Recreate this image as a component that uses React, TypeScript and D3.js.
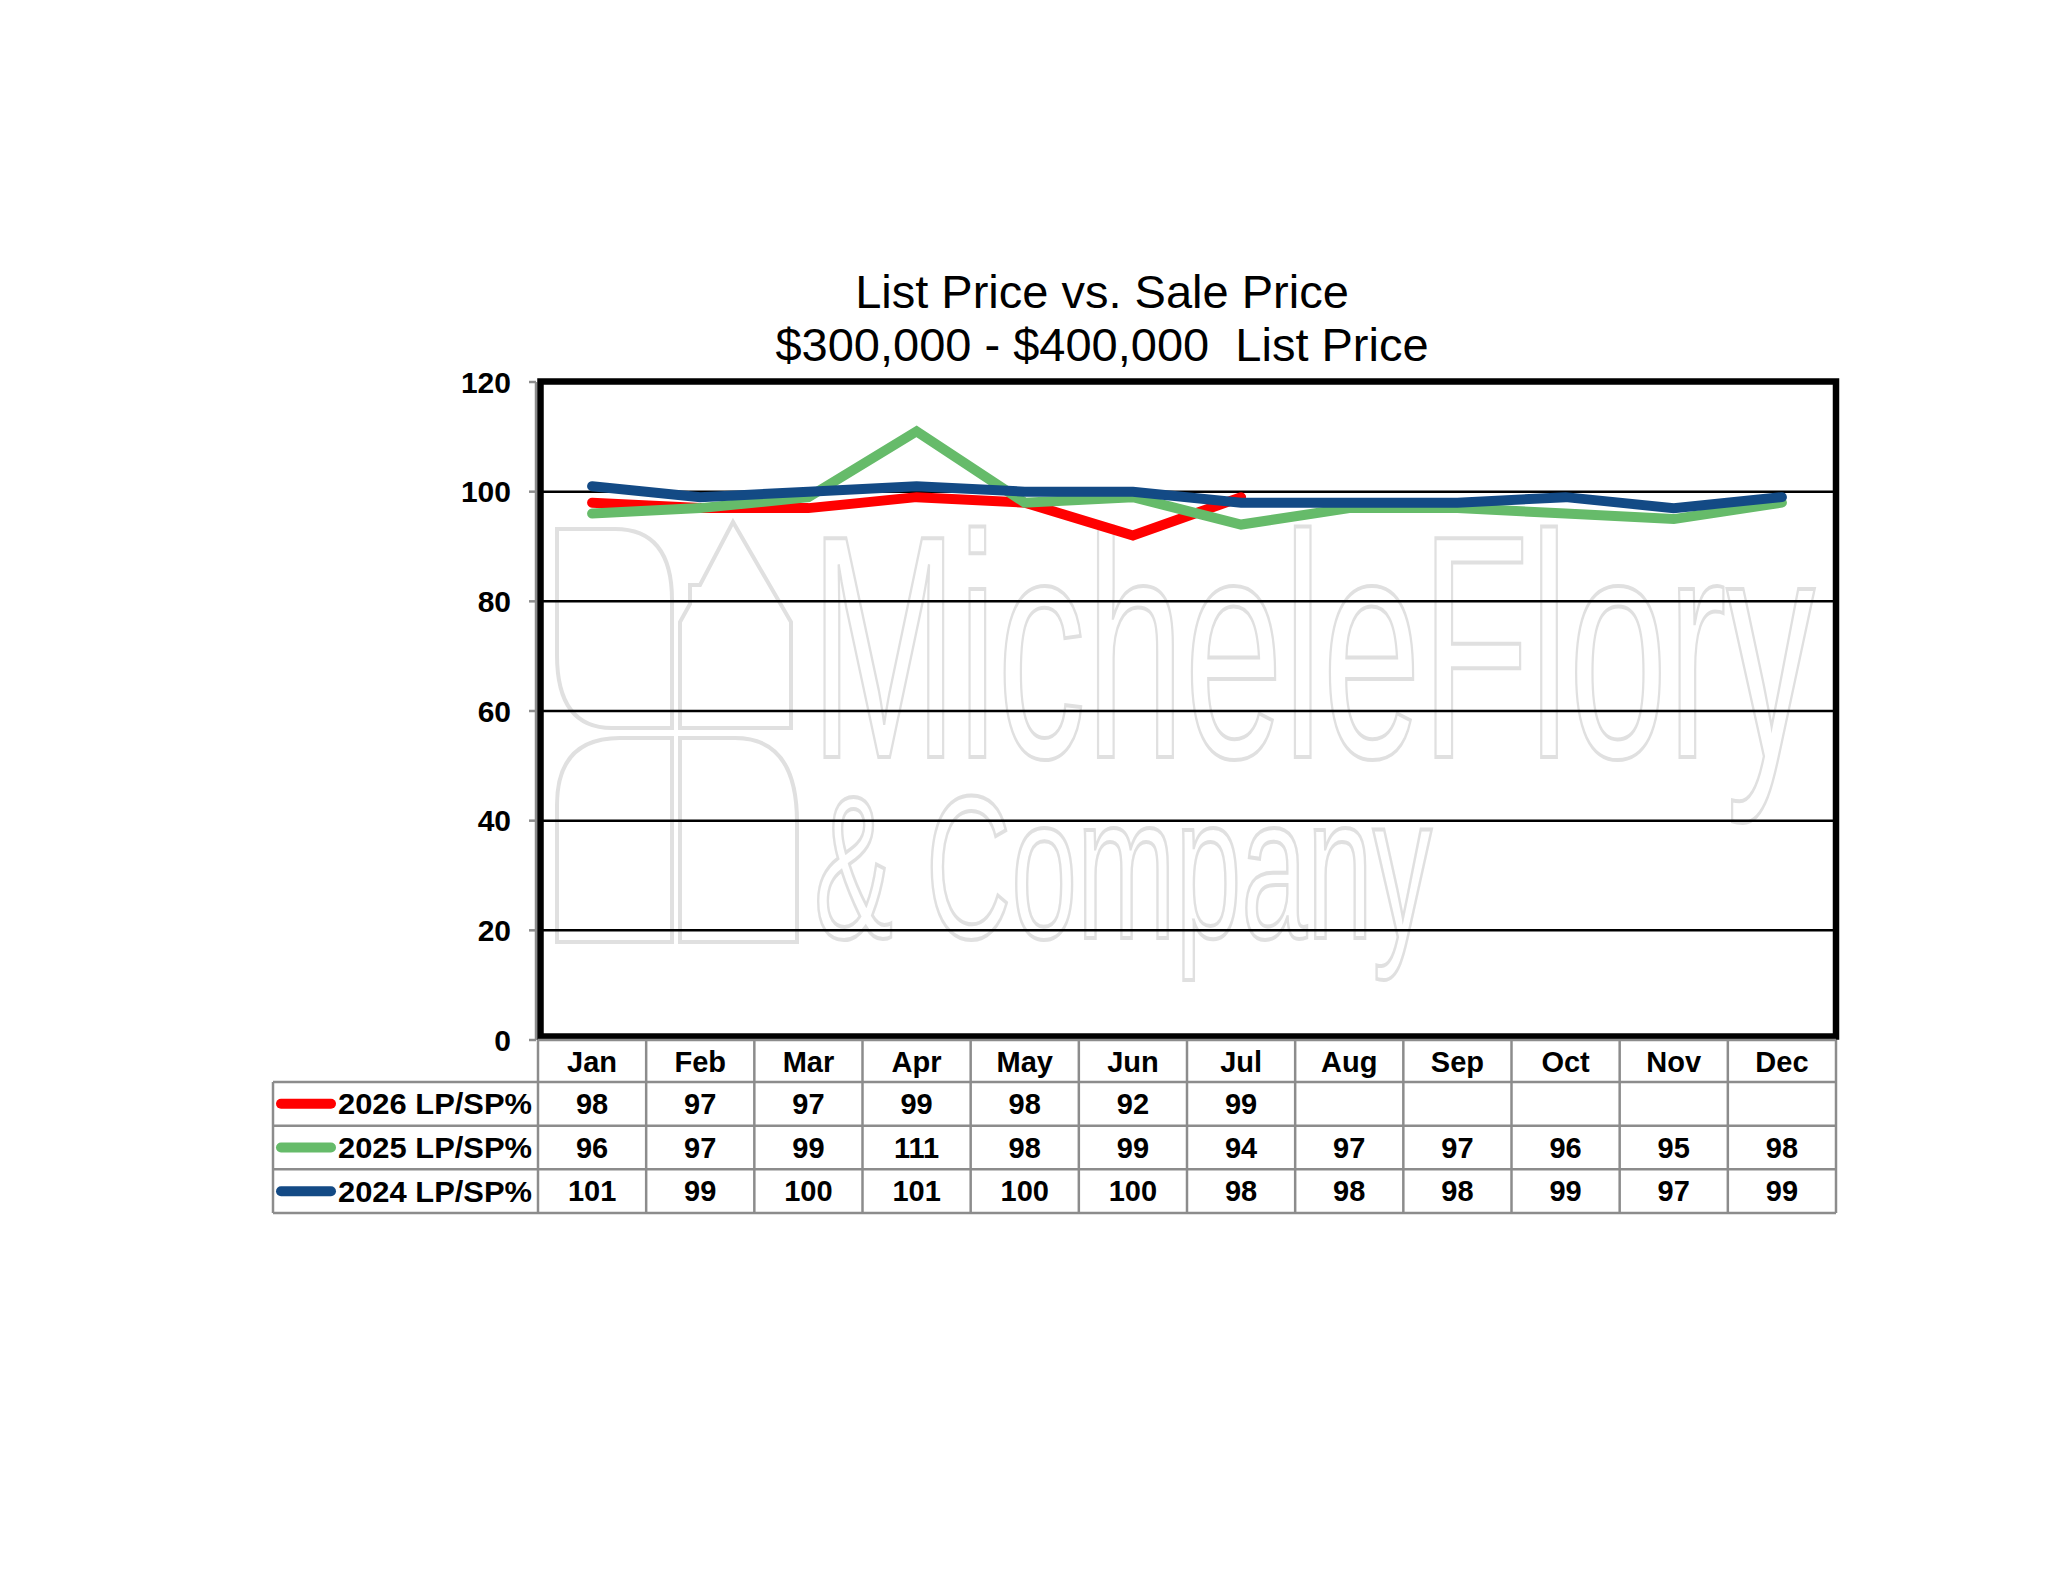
import React from 'react';
import * as d3 from 'd3';

const months = ['Jan', 'Feb', 'Mar', 'Apr', 'May', 'Jun', 'Jul', 'Aug', 'Sep', 'Oct', 'Nov', 'Dec'];
const lp2026 = [98, 97, 97, 99, 98, 92, 99];
const lp2025 = [96, 97, 99, 111, 98, 99, 94, 97, 97, 96, 95, 98];
const lp2024 = [101, 99, 100, 101, 100, 100, 98, 98, 98, 99, 97, 99];
const seriesNames = ['2026 LP/SP%', '2025 LP/SP%', '2024 LP/SP%'];
const seriesColors = ['#ff0000', '#66bb6a', '#134a85'];
const yTicks = [0, 20, 40, 60, 80, 100, 120];

const W = 2048;
const H = 1583;
const FONT = '"Liberation Sans", Arial, sans-serif';
const GRAY = '#8c8c8c';
const WM = '#e0e0e0';

const App: React.FC = () => {
  const series = [lp2026, lp2025, lp2024];

  const x = d3.scaleBand<string>().domain(months).range([538, 1836]);
  const y = d3.scaleLinear().domain([0, 120]).range([1040, 382]);
  const rows = d3.scaleBand<string>().domain(seriesNames).range([1082, 1213]);
  const cx = (m: string) => (x(m) ?? 0) + x.bandwidth() / 2;

  const line = d3
    .line<number>()
    .x((_, i) => cx(months[i]))
    .y(d => y(d));

  const tableLeft = 273;
  const plotLeft = x.range()[0];
  const plotRight = x.range()[1];

  return (
    <svg width={W} height={H} style={{ position: 'absolute', left: 0, top: 0, background: '#fff' }} fontFamily={FONT}>
      {/* watermark */}
      <g fill="none" stroke={WM} strokeWidth={4}>
        <path d="M557,529 H615 Q672,529 672,600 V728 H612 Q557,728 557,655 Z" />
        <path d="M680,728 V622 L690,604 V585 H700 V585 L733,522 L791,622 V728 Z" />
        <path d="M557,942 V805 Q557,738 620,738 H672 V942 Z" />
        <path d="M680,942 V738 H735 Q797,738 797,822 V942 Z" />
        <text x={810} y={757} fontSize={318} textLength={1005} lengthAdjust="spacingAndGlyphs">
          MicheleFlory
        </text>
        <text x={814} y={938} fontSize={205} textLength={618} lengthAdjust="spacingAndGlyphs">
          &amp; Company
        </text>
      </g>

      {/* title */}
      <text x={1102} y={308} textAnchor="middle" fontSize={47}>
        List Price vs. Sale Price
      </text>
      <text x={1102} y={361} textAnchor="middle" fontSize={47} style={{ whiteSpace: 'pre' }}>
        {'$300,000 - $400,000  List Price'}
      </text>

      {/* gridlines */}
      {yTicks
        .filter(t => t > 0 && t < 120)
        .map(t => (
          <line key={t} x1={plotLeft} x2={plotRight} y1={y(t)} y2={y(t)} stroke="#000" strokeWidth={2.5} />
        ))}

      {/* y axis */}
      <line x1={536} x2={536} y1={y(120)} y2={y(0)} stroke={GRAY} strokeWidth={2.5} />
      {yTicks.map(t => (
        <g key={t}>
          <line x1={529} x2={536} y1={y(t)} y2={y(t)} stroke={GRAY} strokeWidth={2.5} />
          <text x={511} y={y(t) + 10.5} textAnchor="end" fontSize={30} fontWeight="bold">
            {t}
          </text>
        </g>
      ))}

      {/* plot frame */}
      <rect x={540.5} y={381.5} width={1295.5} height={655} fill="none" stroke="#000" strokeWidth={6.5} />

      {/* series lines */}
      {series.map((s, i) => (
        <path
          key={seriesNames[i]}
          d={line(s) ?? ''}
          fill="none"
          stroke={seriesColors[i]}
          strokeWidth={10}
          strokeLinecap="round"
          strokeLinejoin="miter"
        />
      ))}

      {/* data table */}
      <g stroke={GRAY} strokeWidth={2.5}>
        <line x1={plotLeft} x2={plotRight} y1={1040} y2={1040} />
        <line x1={tableLeft} x2={plotRight} y1={rows.range()[0]} y2={rows.range()[0]} />
        {seriesNames.map(n => (
          <line key={n} x1={tableLeft} x2={plotRight} y1={(rows(n) ?? 0) + rows.bandwidth()} y2={(rows(n) ?? 0) + rows.bandwidth()} />
        ))}
        <line x1={tableLeft} x2={tableLeft} y1={rows.range()[0]} y2={rows.range()[1]} />
        {months.map(m => (
          <line key={m} x1={x(m)} x2={x(m)} y1={1040} y2={rows.range()[1]} />
        ))}
        <line x1={plotRight} x2={plotRight} y1={1040} y2={rows.range()[1]} />
      </g>

      {months.map(m => (
        <text key={m} x={cx(m)} y={1072} textAnchor="middle" fontSize={29} fontWeight="bold">
          {m}
        </text>
      ))}

      {seriesNames.map((n, i) => {
        const rc = (rows(n) ?? 0) + rows.bandwidth() / 2;
        return (
          <g key={n}>
            <line x1={281} x2={331} y1={rc} y2={rc} stroke={seriesColors[i]} strokeWidth={10} strokeLinecap="round" />
            <text x={532} y={rc + 10.5} textAnchor="end" fontSize={30} fontWeight="bold" textLength={194} lengthAdjust="spacingAndGlyphs">
              {n}
            </text>
            {series[i].map((v, j) => (
              <text key={j} x={cx(months[j])} y={rc + 10} textAnchor="middle" fontSize={29} fontWeight="bold">
                {v}
              </text>
            ))}
          </g>
        );
      })}
    </svg>
  );
};

export default App;
